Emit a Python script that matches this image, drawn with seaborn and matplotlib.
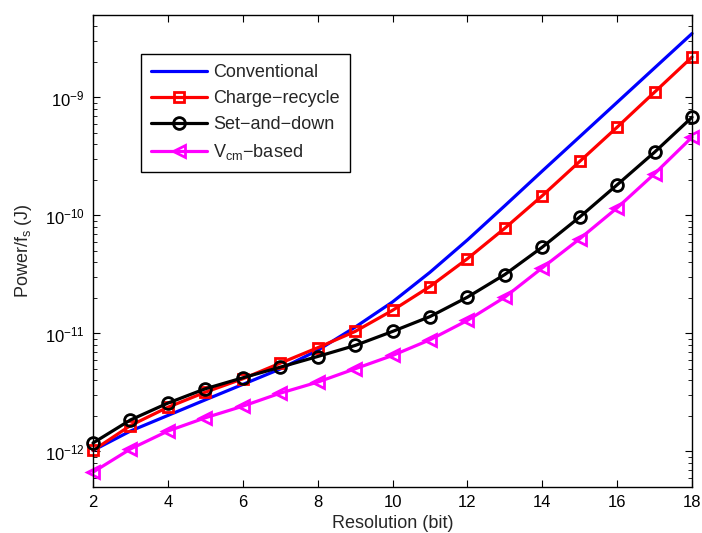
import numpy as np
import pandas as pd
import matplotlib
matplotlib.use("Agg")
import matplotlib.pyplot as plt
import seaborn as sns

resolution = list(range(2, 19))
conventional = [1.02e-12, 1.49e-12, 2.02e-12, 2.74e-12, 3.7e-12, 5.0e-12, 7.2e-12,
                1.13e-11, 1.85e-11, 3.3e-11, 6.2e-11, 1.21e-10, 2.38e-10, 4.65e-10,
                9.1e-10, 1.78e-9, 3.48e-9]
charge_recycle = [1.02e-12, 1.66e-12, 2.37e-12, 3.18e-12, 4.13e-12, 5.6e-12, 7.57e-12,
                  1.04e-11, 1.57e-11, 2.50e-11, 4.3e-11, 7.8e-11, 1.47e-10, 2.87e-10,
                  5.6e-10, 1.11e-9, 2.20e-9]
set_and_down = [1.18e-12, 1.85e-12, 2.57e-12, 3.4e-12, 4.21e-12, 5.18e-12, 6.38e-12,
                7.91e-12, 1.04e-11, 1.39e-11, 2.03e-11, 3.16e-11, 5.39e-11, 9.7e-11,
                1.82e-10, 3.44e-10, 6.8e-10]
vcm_based = [6.68e-13, 1.05e-12, 1.49e-12, 1.93e-12, 2.42e-12, 3.12e-12, 3.87e-12,
             5.02e-12, 6.51e-12, 8.84e-12, 1.29e-11, 2.03e-11, 3.6e-11, 6.34e-11,
             1.16e-10, 2.26e-10, 4.61e-10]
labels = ["Conventional", "Charge\u2212recycle", "Set\u2212and\u2212down",
          "V$_{\\mathregular{cm}}$\u2212based"]

sns.set_style("ticks")
plt.rcParams["font.family"] = ["Liberation Sans", "DejaVu Sans"]
plt.rcParams["mathtext.fontset"] = "custom"
plt.rcParams["mathtext.rm"] = "Liberation Sans"
plt.rcParams["mathtext.it"] = "Liberation Sans:italic"
plt.rcParams["mathtext.bf"] = "Liberation Sans:bold"

fig = plt.figure(figsize=(7.02, 5.33), dpi=100)
ax = fig.add_axes([0.1325, 0.0863, 0.8533, 0.8856])

series = [
    (conventional, "#0000ff", None, labels[0]),
    (charge_recycle, "#ff0000", "s", labels[1]),
    (set_and_down, "#000000", "o", labels[2]),
    (vcm_based, "#ff00ff", "<", labels[3]),
]
for vals, col, mk, lab in series:
    df = pd.DataFrame({"x": resolution, "y": vals})
    kw = {}
    if mk is not None:
        kw = dict(marker=mk, markersize=8.5 if mk != "s" else 7.5,
                  markerfacecolor="none", markeredgecolor=col, markeredgewidth=2.0)
    sns.lineplot(data=df, x="x", y="y", ax=ax, color=col, linewidth=2.3,
                 label=lab, clip_on=False, **kw)

ax.set_yscale("log")
ax.set_xlim(2, 18)
ax.set_ylim(5e-13, 5e-9)
ax.set_xticks(range(2, 19, 2))
ax.set_yticks([1e-12, 1e-11, 1e-10, 1e-9])
ax.tick_params(which="both", direction="in", top=True, right=True, labelsize=12, colors="black")
ax.tick_params(which="major", length=5, width=0.8, pad=6)
ax.tick_params(which="minor", length=3, width=0.6)
ax.tick_params(axis="x", which="minor", top=False, bottom=False)
for s in ax.spines.values():
    s.set_linewidth(1.0)
    s.set_color("black")
ax.set_xlabel("Resolution (bit)", fontsize=13, labelpad=3)
ax.set_ylabel("Power/f$_{\\mathregular{s}}$ (J)", fontsize=13, labelpad=8)

leg = ax.legend(loc="upper left", bbox_to_anchor=(0.080, 0.917), fontsize=13,
                frameon=True, fancybox=False, framealpha=1, edgecolor="black",
                handlelength=3.1, borderpad=0.55, labelspacing=0.5, handletextpad=0.35,
                borderaxespad=0)
leg.get_frame().set_linewidth(1.0)

fig.savefig("out.png", dpi=100, facecolor="white")
